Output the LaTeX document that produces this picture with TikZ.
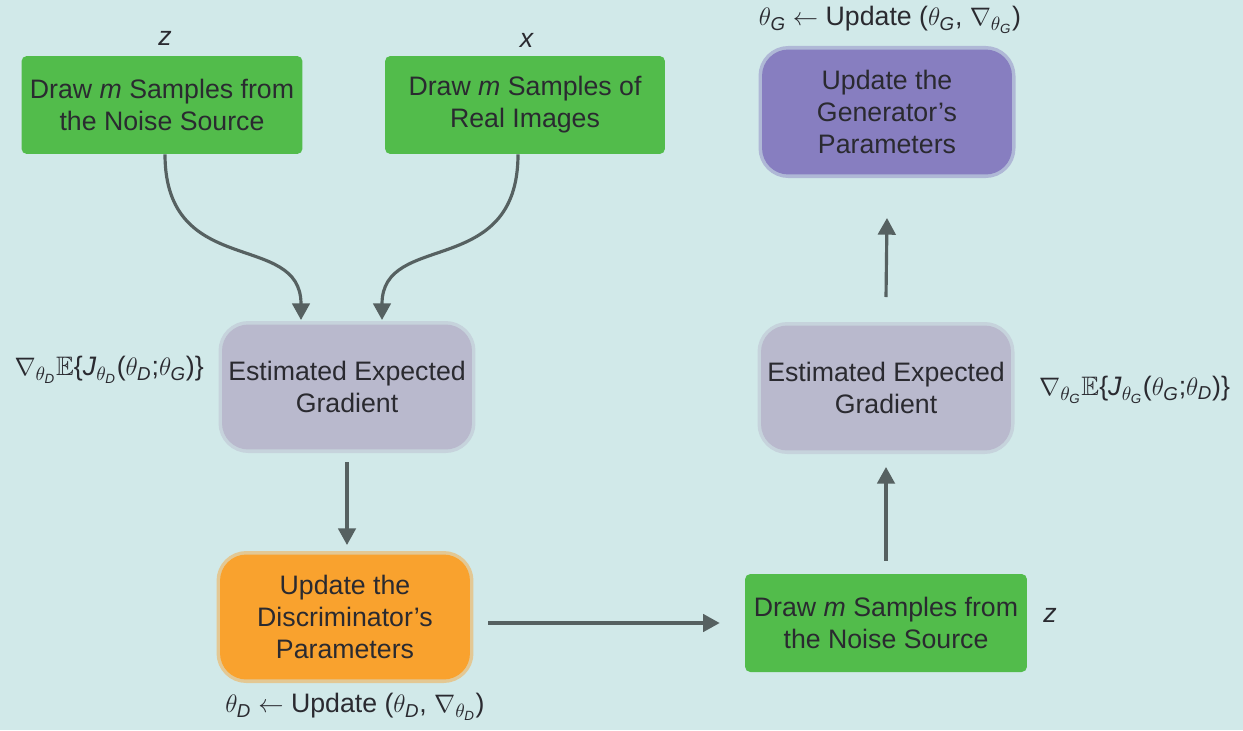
\documentclass[tikz,border=0pt]{standalone}
\usepackage{amsmath,amssymb}
\usepackage{fontspec}
\setmainfont{Liberation Sans}
\usetikzlibrary{arrows.meta}
\definecolor{bgcol}{HTML}{D1E9E9}
\definecolor{greencol}{HTML}{52BC4B}
\definecolor{graycol}{HTML}{B9B9CD}
\definecolor{purplecol}{HTML}{877EC0}
\definecolor{orangecol}{HTML}{F9A22E}
\definecolor{arrowcol}{HTML}{566161}
\definecolor{textcol}{HTML}{2A2A30}
\newcommand{\iD}{\text{\itshape D}}
\newcommand{\iG}{\text{\itshape G}}
\begin{document}
\begin{tikzpicture}[x=0.02cm,y=-0.02cm,
  every node/.style={text=textcol,font=\fontsize{15.2}{18.3}\selectfont},
  greenbox/.style={fill=greencol,rounded corners=3pt,align=center,minimum height=1.96cm},
  softbox/.style={fill=#1,draw=#1,draw opacity=0.45,line width=4pt,rounded corners=15pt,align=center,
    minimum width=5.0cm,minimum height=2.5cm},
  flow/.style={arrowcol,line width=1.8pt,-{Triangle[width=10pt,length=9.5pt]}}]
\fill[bgcol] (0,0) rectangle (1243,730);
\useasboundingbox (0,0) rectangle (1243,730);
% left column
\node[greenbox,minimum width=5.62cm] (noise) at (162,105) {Draw \textit{m} Samples from\\the Noise Source};
\node[greenbox,minimum width=5.6cm] (real) at (525,105) {Draw \textit{m} Samples of\\Real Images};
\node (zlbl) at (165,38) {\textit{z}};
\node (xlbl) at (527,40) {\textit{x}};
\node[softbox=graycol] (gradD) at (347,387) {Estimated Expected\\Gradient};
\node[softbox=orangecol] (updD) at (345,617) {Update the\\Discriminator's\\Parameters};
\node[anchor=east] (gradDlbl) at (210,370) {$\nabla_{\theta_\iD}\mathbb{E}$\{\textit{J}$_{\theta_\iD}$($\theta_\iD$;$\theta_\iG$)\}};
\node (updDlbl) at (355,707) {$\theta_\iD\leftarrow$ Update ($\theta_\iD$, $\nabla_{\theta_\iD}$)};
% right column
\node[greenbox,minimum width=5.64cm] (noise2) at (886,623) {Draw \textit{m} Samples from\\the Noise Source};
\node (zlbl2) at (1050,615) {\textit{z}};
\node[softbox=graycol] (gradG) at (886,388) {Estimated Expected\\Gradient};
\node[softbox=purplecol] (updG) at (887,112) {Update the\\Generator's\\Parameters};
\node[anchor=west] (gradGlbl) at (1033,390) {$\nabla_{\theta_\iG}\mathbb{E}$\{\textit{J}$_{\theta_\iG}$($\theta_\iG$;$\theta_\iD$)\}};
\node (updGlbl) at (890,20) {$\theta_\iG\leftarrow$ Update ($\theta_\iG$, $\nabla_{\theta_\iG}$)};
% arrows
\draw[flow] (noise.south -| 165,0) .. controls (165,280) and (301,230) .. (301,320);
\draw[flow] (real.south -| 518,0) .. controls (518,280) and (382,230) .. (382,320);
\draw[flow] ([yshift=-0.18cm]gradD.south) -- ([yshift=0.12cm]updD.north -| gradD.south);
\draw[flow] ([xshift=0.3cm]updD.east |- noise2.west) -- ([xshift=-0.5cm]noise2.west);
\draw[flow] ([yshift=0.26cm]noise2.north) -- ([yshift=-0.26cm]gradG.south);
\draw[flow] ([yshift=0.5cm]gradG.north) -- ([yshift=-0.8cm]updG.south);
\end{tikzpicture}
\end{document}
